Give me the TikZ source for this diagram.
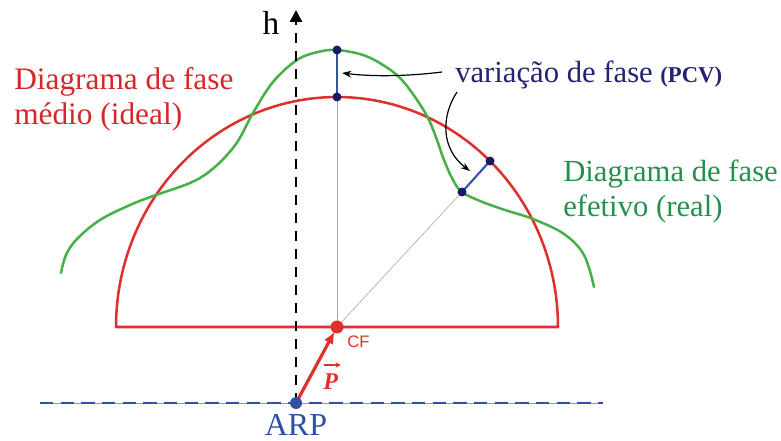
\documentclass[tikz,border=0pt]{standalone}
\usepackage{fontspec}
\setmainfont{Liberation Serif}
\newfontfamily\sansf{Liberation Sans}
\usetikzlibrary{arrows.meta}
\definecolor{cred}{RGB}{222,48,45}
\definecolor{tred}{RGB}{212,40,40}
\definecolor{cgreen}{RGB}{72,176,72}
\definecolor{tgreen}{RGB}{35,145,75}
\definecolor{tnavy}{RGB}{35,35,112}
\definecolor{dnavy}{RGB}{25,25,100}
\definecolor{segblue}{RGB}{50,85,165}
\definecolor{arpblue}{RGB}{45,80,160}
\tikzset{
  bigtxt/.style={inner sep=0pt, anchor=base west, font=\fontsize{23.5}{28}\selectfont},
  redline/.style={draw=cred, line width=1.9pt},
  greenline/.style={draw=cgreen, line width=1.9pt},
  thin gray/.style={draw=gray!70, line width=0.45pt},
  pcvseg/.style={draw=segblue, line width=1.6pt},
  navydot/.style={fill=dnavy},
  callout/.style={draw=black, line width=0.9pt, -{Stealth[length=7pt,width=5pt]}},
}
\begin{document}
\begin{tikzpicture}[x=0.75pt,y=-0.75pt]
\useasboundingbox (0,0) rectangle (781,441);

% coordinates
\coordinate (CF) at (337,327);
\coordinate (ARP) at (296,403);
\coordinate (topG) at (337,50);
\coordinate (topR) at (337,97);
\coordinate (effG) at (462,192);
\coordinate (effR) at (490,161);
\coordinate (baseL) at (40,403);
\coordinate (baseR) at (603,403);
\coordinate (hTop) at (296,10);
\coordinate (vmid) at (342,73);
\coordinate (a1s) at (442,72);
\coordinate (a2s) at (457,92);
\coordinate (a2e) at (470,171);

% baseline (ARP plane)
\draw[draw=gray!80, line width=0.6pt] (baseL) -- (baseR);
\draw[draw=arpblue, line width=2.2pt, dash pattern=on 10pt off 5.5pt] (baseL) -- (baseR);

% ideal phase diagram (red)
\draw[redline, line join=round] plot[domain=0:180, samples=120] ({337+221*cos(\x)},{327-230*sin(\x)}) -- cycle;

% thin gray radii
\draw[thin gray] (CF) -- (topR);
\draw[thin gray] (CF) -- (effG);

% effective phase diagram (green)
\draw[greenline, line cap=round] plot[smooth, tension=0.6] coordinates {
 (61,273) (66,255) (77,239) (100,220) (130,205) (153,196) (200,178) (233,148)
 (253,113) (273,82) (297,60) (318,52) (337,50) (363,55) (383,65) (400,78)
 (415,97) (428,118) (437,140) (444,160) (453,180) (462,192) (480,201) (505,210)
 (533,219) (564,234) (584,255) (594,287)};

% h axis
\draw[line width=2.2pt, dash pattern=on 7.5pt off 6pt, -{Triangle[length=9pt,width=9pt]}] (ARP) -- (hTop);

% PCV segments
\draw[pcvseg] (topG) -- (topR);
\draw[pcvseg] (effG) -- (effR);
\fill[navydot] (topG) circle (4.5);
\fill[navydot] (topR) circle (4.5);
\fill[navydot] (effG) circle (4.5);
\fill[navydot] (effR) circle (4.5);

% P vector
\draw[draw=cred, line width=2.4pt, -{Latex[length=9pt,width=8pt]}, shorten <=4pt, shorten >=4pt] (ARP) -- (CF);
\fill[cred] (CF) circle (6.5);
\fill[arpblue] (ARP) circle (6);

% callout arrows
\draw[callout] (a1s) .. controls (410,76) and (375,77) .. (vmid);
\draw[callout] (a2s) .. controls (440,118) and (442,150) .. (a2e);

% texts
\node[bigtxt, text=tred] (mid1) at (14,90) {Diagrama de fase};
\node[bigtxt, text=tred] (mid2) at (14,125) {médio (ideal)};
\node[bigtxt, text=tnavy, font=\fontsize{23}{28}\selectfont] (var) at (455,83) {variação de fase {\bfseries\fontsize{17}{20}\selectfont (PCV)}};
\node[bigtxt, text=tgreen, font=\fontsize{23}{28}\selectfont] (eff1) at (563,182) {Diagrama de fase};
\node[bigtxt, text=tgreen, font=\fontsize{23}{28}\selectfont] (eff2) at (563,217) {efetivo (real)};
\node[inner sep=0pt, anchor=base, font=\fontsize{25}{30}\selectfont] (hlab) at (271,35) {h};
\node[inner sep=0pt, anchor=base, text=arpblue, font=\fontsize{24}{28}\selectfont] (arplab) at (296,435) {ARP};
\node[inner sep=0pt, anchor=base west, text=cred, font=\sansf\fontsize{12.5}{15}\selectfont] (cflab) at (347,347) {CF};
\node[inner sep=0pt, anchor=base west, text=cred, font=\fontsize{18}{22}\selectfont\bfseries\itshape] (plab) at (323,389) {P};
\draw[draw=cred, line width=1pt, -{Stealth[length=4pt,width=4pt]}] ([xshift=1pt,yshift=6pt]plab.north west) -- ([xshift=2pt,yshift=6pt]plab.north east);
\end{tikzpicture}
\end{document}
